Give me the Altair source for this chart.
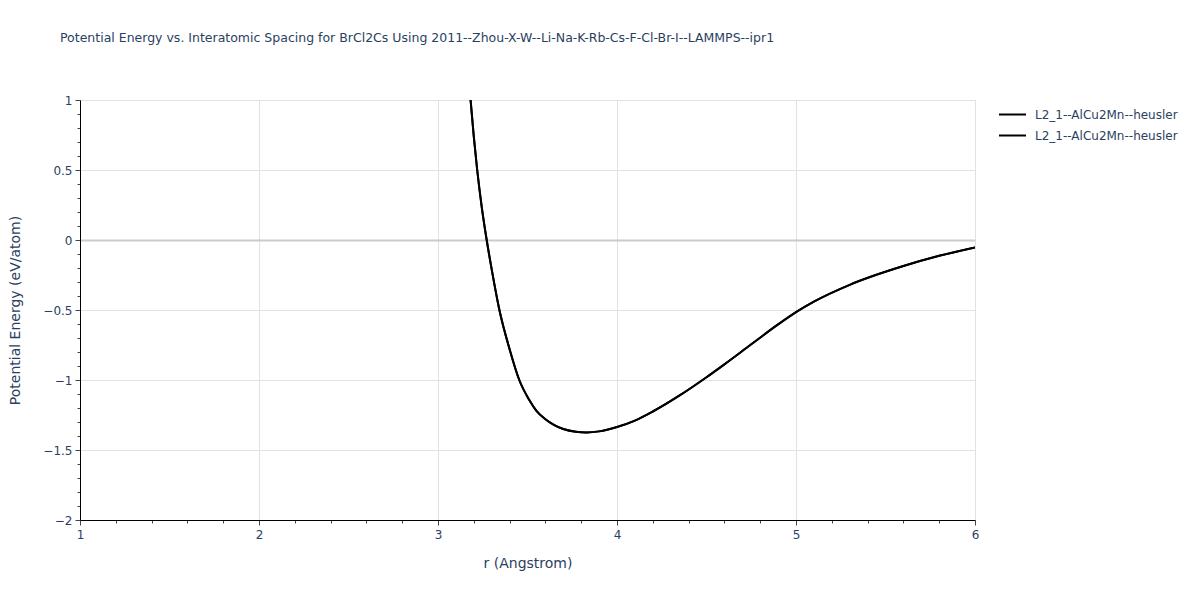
import altair as alt
import pandas as pd

r_vals = [3.182, 3.20, 3.219, 3.245, 3.272, 3.30, 3.343, 3.40, 3.454, 3.51, 3.55, 3.60,
          3.65, 3.70, 3.77, 3.83, 3.90, 4.00, 4.10, 4.20, 4.35, 4.50, 4.60, 4.75, 4.90,
          5.00, 5.10, 5.30, 5.60, 5.80, 6.00]
e_vals = [1.00, 0.739, 0.50, 0.23, 0.00, -0.21, -0.50, -0.78, -1.00, -1.143, -1.22, -1.28,
          -1.322, -1.35, -1.37, -1.375, -1.367, -1.336, -1.29, -1.225, -1.11, -0.98, -0.888, -0.745, -0.603,
          -0.515, -0.44, -0.32, -0.186, -0.113, -0.053]
series_keys = ["s1", "s2"]
series_label = "L2_1--AlCu2Mn--heusler"

x_ticks = [round(1 + 0.2 * i, 1) for i in range(26)]
y_ticks = [round(-2 + 0.1 * i, 1) for i in range(31)]

rows = []
for s in series_keys:
    for r, e in zip(r_vals, e_vals):
        rows.append({"r": r, "E": e, "series": s})
df = pd.DataFrame(rows)

TXT = "#2a3f5f"
FONT = "DejaVu Sans"

x_major = "abs(datum.value - round(datum.value)) < 0.001"
y_major = "abs(datum.value * 2 - round(datum.value * 2)) < 0.001"

chart = alt.Chart(df).mark_line(strokeWidth=2, clip=True, interpolate="monotone").encode(
    x=alt.X("r:Q", title="r (Angstrom)",
            scale=alt.Scale(domain=[1, 6], nice=False, zero=False),
            axis=alt.Axis(values=x_ticks,
                          labelExpr=f"({x_major}) ? format(datum.value, 'd') : ''",
                          tickSize=alt.condition(x_major, alt.value(5), alt.value(3)),
                          gridOpacity=alt.condition(x_major, alt.value(1), alt.value(0)),
                          gridColor="#e2e2e2", gridWidth=1,
                          domainColor="black", tickColor="#444444",
                          labelColor=TXT, labelFontSize=12, labelFont=FONT, labelPadding=4,
                          titleColor=TXT, titleFontSize=14, titleFont=FONT,
                          titleFontWeight="normal", titlePadding=16, labelFlush=False)),
    y=alt.Y("E:Q", title="Potential Energy (eV/atom)",
            scale=alt.Scale(domain=[-2, 1], nice=False, zero=False),
            axis=alt.Axis(values=y_ticks,
                          labelExpr=f"({y_major}) ? replace(format(datum.value, '~g'), '-', '\u2212') : ''",
                          tickSize=alt.condition(y_major, alt.value(5), alt.value(3)),
                          gridOpacity=alt.condition(y_major, alt.value(1), alt.value(0)),
                          gridColor=alt.condition("datum.value == 0", alt.value("#cccccc"), alt.value("#e2e2e2")),
                          gridWidth=alt.condition("datum.value == 0", alt.value(2), alt.value(1)),
                          domainColor="black", tickColor="#444444",
                          labelColor=TXT, labelFontSize=12, labelFont=FONT, labelPadding=3,
                          titleColor=TXT, titleFontSize=14, titleFont=FONT,
                          titleFontWeight="normal", titlePadding=20, labelFlush=False)),
    color=alt.Color("series:N",
                    scale=alt.Scale(domain=series_keys, range=["black", "black"]),
                    legend=alt.Legend(title=None, orient="none", legendX=918, legendY=0,
                                      symbolType="stroke", symbolSize=729, symbolStrokeWidth=2,
                                      labelExpr=f"'{series_label}'", labelColor=TXT,
                                      labelFontSize=12, labelFont=FONT, labelOffset=8,
                                      rowPadding=-7, padding=0)),
    detail="series:N",
).properties(
    width=895, height=420,
    title=alt.TitleParams(
        "Potential Energy vs. Interatomic Spacing for BrCl2Cs Using 2011--Zhou-X-W--Li-Na-K-Rb-Cs-F-Cl-Br-I--LAMMPS--ipr1",
        anchor="start", frame="group", align="left", dx=-20, offset=50, fontSize=12.5,
        font=FONT, fontWeight="normal", color=TXT),
    autosize=alt.AutoSizeParams(type="none"),
    padding={"left": 72, "top": 92, "right": 217, "bottom": 72},
).configure_view(stroke=None).configure(background="white")

chart.save("out.html", embed_options={"renderer": "svg", "actions": False})
